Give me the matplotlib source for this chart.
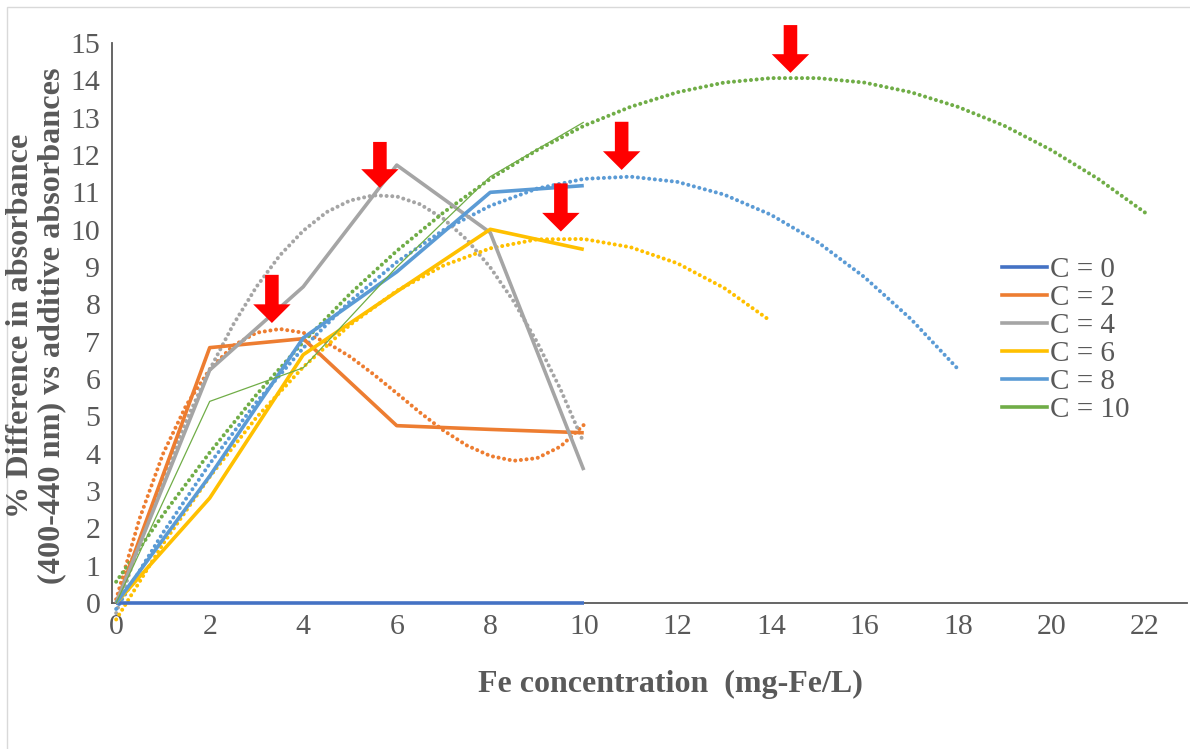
import numpy as np
import matplotlib
matplotlib.use("Agg")
import matplotlib.pyplot as plt
from matplotlib.patches import FancyArrow, Rectangle
from matplotlib.lines import Line2D

plt.rcParams["font.family"] = ["Liberation Serif", "DejaVu Serif"]

# --- data ---
fe = [0, 2, 4, 6, 8, 10]
labels = ["C = 0", "C = 2", "C = 4", "C = 6", "C = 8", "C = 10"]
colors = ["#4472C4", "#ED7D31", "#A5A5A5", "#FFC000", "#5B9BD5", "#70AD47"]

c0 = [0, 0, 0, 0, 0, 0]
c2 = [0, 6.84, 7.08, 4.75, 4.65, 4.56]
c4 = [0, 6.24, 8.47, 11.73, 9.92, 3.56]
c6 = [0, 2.81, 6.65, 8.34, 10.01, 9.47]
c8 = [0, 3.4, 7.1, 8.87, 11.0, 11.18]
c10 = [0, 5.4, 6.3, 9.0, 11.42, 12.88]
series = [c0, c2, c4, c6, c8, c10]
widths = [2.6, 2.6, 2.6, 2.6, 2.6, 0.9]

# trendlines (dotted), values
tr2_x = np.arange(0, 10.5, 0.5)
tr2_y = [0.10, 2.26, 3.99, 5.30, 6.26, 6.89, 7.24, 7.34, 7.24, 6.98, 6.60,
         6.13, 5.62, 5.10, 4.62, 4.22, 3.94, 3.81, 3.88, 4.19, 4.77]
tr4_x = np.arange(0, 10.5, 0.5)
tr4_y = [-0.27, 1.62, 3.34, 4.89, 6.25, 7.45, 8.47, 9.31, 9.97, 10.47, 10.78,
         10.92, 10.89, 10.68, 10.29, 9.73, 8.99, 8.08, 6.99, 5.73, 4.29]
tr6_x = np.arange(0, 15)
tr6_y = [-0.44, 1.58, 3.38, 4.97, 6.32, 7.45, 8.36, 9.04, 9.50, 9.74, 9.75,
         9.53, 9.10, 8.44, 7.55]
tr8_x = np.arange(0, 19)
tr8_y = [-0.16, 1.88, 3.73, 5.38, 6.83, 8.08, 9.13, 9.99, 10.64, 11.10, 11.36,
         11.42, 11.28, 10.94, 10.40, 9.67, 8.73, 7.60, 6.27]
tr10_x = np.arange(0, 23)
tr10_y = [0.57, 2.36, 4.03, 5.58, 6.99, 8.28, 9.43, 10.46, 11.36, 12.13, 12.78,
          13.29, 13.68, 13.94, 14.06, 14.06, 13.94, 13.68, 13.29, 12.78, 12.13,
          11.36, 10.46]
trends = [(tr2_x, tr2_y, colors[1]), (tr4_x, tr4_y, colors[2]),
          (tr6_x, tr6_y, colors[3]), (tr8_x, tr8_y, colors[4]),
          (tr10_x, tr10_y, colors[5])]

# red arrows marking the maxima
arrow_x = [3.33, 5.64, 9.51, 10.81, 14.42]
arrow_top = [8.79, 12.35, 11.24, 12.89, 15.48]
arrow_tip = [7.5, 11.12, 9.95, 11.6, 14.2]

# --- figure ---
W, H = 1190, 749
fig = plt.figure(figsize=(W / 100, H / 100), dpi=100)
ax = fig.add_axes([111.5 / W, 1 - 603 / H, (1187 - 111.5) / W, (603 - 43) / H])

txt = "#595959"

for x, y, col in trends:
    ax.plot(x, y, color=col, lw=2.9, linestyle=(0, (0.01, 1.4)),
            dash_capstyle="round", zorder=3, clip_on=False)

for ys, col, lw in zip(series, colors, widths):
    ax.plot(fe, ys, color=col, lw=lw, zorder=4, solid_capstyle="butt",
            clip_on=False)

for x, top, tip in zip(arrow_x, arrow_top, arrow_tip):
    ax.add_patch(FancyArrow(x, top, 0, tip - top, width=0.29, head_width=0.8,
                            head_length=0.5, length_includes_head=True,
                            color="#FF0000", lw=0, clip_on=False, zorder=6))

ax.set_xlim(-0.1, 22.9)
ax.set_ylim(0, 15)
ax.set_xticks(range(0, 23, 2))
ax.set_yticks(range(0, 16))
ax.tick_params(length=0, labelsize=21.5, colors=txt, pad=8)
for s in ["top", "right"]:
    ax.spines[s].set_visible(False)
for s in ["left", "bottom"]:
    ax.spines[s].set_color("#595959")
    ax.spines[s].set_linewidth(1.3)

fig.text(670 / W, 1 - 692 / H, "Fe concentration  (mg-Fe/L)", ha="center",
         va="baseline", fontsize=23, fontweight="bold", color=txt)
fig.text(36 / W, 1 - 326 / H,
         "% Difference in absorbance\n(400-440 nm) vs additive absorbances",
         rotation=90, ha="center", va="center", multialignment="center",
         fontsize=23.2, fontweight="bold", color=txt, linespacing=1.1)

handles = [Line2D([], [], color=c, lw=2.6) for c in colors]
fig.legend(handles, labels, loc="upper left",
           bbox_to_anchor=(1002 / W, 1 - 257 / H), frameon=False,
           fontsize=21, labelcolor=txt, handlelength=1.55, handletextpad=0.08,
           labelspacing=0.05, borderpad=0, borderaxespad=0)

# light frame around the chart area
fig.patches.append(Rectangle((7 / W, -0.05), 1.1, 1 - 7 / H + 0.05,
                             transform=fig.transFigure, fill=False,
                             edgecolor="#D9D9D9", lw=1))

fig.savefig("out.png", dpi=100)
